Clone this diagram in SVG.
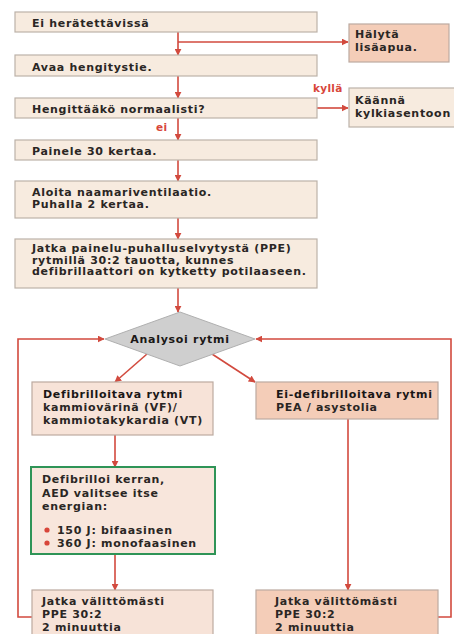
<svg xmlns="http://www.w3.org/2000/svg" width="454" height="634" viewBox="0 0 454 634">
<style>
.bx{fill:#f7ebdf;stroke:#bcb2a9;stroke-width:1.2}
.sal{fill:#f4cdb8;stroke:#bcaaa0;stroke-width:1.2}
.pk{fill:#f7e3d8;stroke:#bcaaa0;stroke-width:1.2}
.gr{fill:#f8e6dc;stroke:#2f9457;stroke-width:2}
.dm{fill:#cfcfcf;stroke:#b0b0b0;stroke-width:1}
text{font-family:"DejaVu Sans","Liberation Sans",sans-serif;font-size:11px;font-weight:bold;fill:#2a2624;letter-spacing:0.7px}
.hb{font-weight:bold;fill:#1a1716}
.rd{fill:#d8463a;font-size:10.5px;letter-spacing:0.3px}
.ln{fill:none;stroke:#d24a3e;stroke-width:1.6}
</style>
<defs>
<marker id="ah" viewBox="0 0 10 10" refX="9" refY="5" markerWidth="7" markerHeight="7" markerUnits="userSpaceOnUse" orient="auto">
<path d="M0,0 L10,5 L0,10 z" fill="#d24a3e"/>
</marker>
</defs>
<g id="connectors">
<path class="ln" d="M178,32 V55" marker-end="url(#ah)"/>
<path class="ln" d="M178,42 H348" marker-end="url(#ah)"/>
<path class="ln" d="M178,76 V98" marker-end="url(#ah)"/>
<path class="ln" d="M178,118 V140" marker-end="url(#ah)"/>
<path class="ln" d="M317,108 H348" marker-end="url(#ah)"/>
<path class="ln" d="M178,160 V181" marker-end="url(#ah)"/>
<path class="ln" d="M178,218 V239" marker-end="url(#ah)"/>
<path class="ln" d="M178,288 V312" marker-end="url(#ah)"/>
<path class="ln" d="M147,354 L115,382" marker-end="url(#ah)"/>
<path class="ln" d="M212,354 L255,382" marker-end="url(#ah)"/>
<path class="ln" d="M115,435 V467" marker-end="url(#ah)"/>
<path class="ln" d="M115,554 V590" marker-end="url(#ah)"/>
<path class="ln" d="M348,419 V590" marker-end="url(#ah)"/>
<path class="ln" d="M32,617 H18 V339 H104" marker-end="url(#ah)"/>
<path class="ln" d="M438,617 H451 V339 H256" marker-end="url(#ah)"/>
<text class="rd" x="313" y="92">kyllä</text>
<text class="rd" x="156" y="131">ei</text>
</g>
<g id="n1"><rect class="bx" x="15" y="12" width="302" height="20"/><text x="32" y="27">Ei herätettävissä</text></g>
<g id="n2"><rect class="sal" x="349" y="24" width="100" height="38"/><text x="355" y="38">Hälytä</text><text x="355" y="51">lisäapua.</text></g>
<g id="n3"><rect class="bx" x="15" y="55" width="302" height="21"/><text x="32" y="71">Avaa hengitystie.</text></g>
<g id="n4"><rect class="bx" x="15" y="98" width="302" height="20"/><text x="32" y="113">Hengittääkö normaalisti?</text></g>
<g id="n5"><rect class="bx" x="349" y="88" width="110" height="39"/><text x="355" y="104">Käännä</text><text x="355" y="117">kylkiasentoon</text></g>
<g id="n6"><rect class="bx" x="15" y="140" width="302" height="20"/><text x="32" y="155">Painele 30 kertaa.</text></g>
<g id="n7"><rect class="bx" x="15" y="181" width="302" height="37"/><text x="32" y="196">Aloita naamariventilaatio.</text><text x="32" y="208">Puhalla 2 kertaa.</text></g>
<g id="n8"><rect class="bx" x="15" y="239" width="302" height="49"/><text x="32" y="252">Jatka painelu-puhalluselvytystä (PPE)</text><text x="32" y="263.5">rytmillä 30:2 tauotta, kunnes</text><text x="32" y="275">defibrillaattori on kytketty potilaaseen.</text></g>
<g id="n9"><path class="dm" d="M180,312 L255,339 L180,366 L105,339 z"/><text x="180" y="343" text-anchor="middle" class="hb">Analysoi rytmi</text></g>
<g id="n10"><rect class="pk" x="32" y="382" width="181" height="53"/><text x="43" y="398" class="hb">Defibrilloitava rytmi</text><text x="43" y="411">kammiovärinä (VF)/</text><text x="43" y="424">kammiotakykardia (VT)</text></g>
<g id="n11"><rect class="sal" x="256" y="382" width="182" height="37"/><text x="276" y="398" class="hb">Ei-defibrilloitava rytmi</text><text x="276" y="411">PEA / asystolia</text></g>
<g id="n12"><rect class="gr" x="31" y="467" width="184" height="87"/><text x="42" y="483">Defibrilloi kerran,</text><text x="42" y="497">AED valitsee itse</text><text x="42" y="510">energian:</text><circle cx="47" cy="530" r="2.6" fill="#d8463a"/><text x="57" y="534">150 J: bifaasinen</text><circle cx="47" cy="543" r="2.6" fill="#d8463a"/><text x="57" y="547">360 J: monofaasinen</text></g>
<g id="n13"><rect class="pk" x="32" y="590" width="181" height="50"/><text x="42" y="605">Jatka välittömästi</text><text x="42" y="618">PPE 30:2</text><text x="42" y="631">2 minuuttia</text></g>
<g id="n14"><rect class="sal" x="256" y="590" width="182" height="50"/><text x="275" y="605">Jatka välittömästi</text><text x="275" y="618">PPE 30:2</text><text x="275" y="631">2 minuuttia</text></g>
</svg>
